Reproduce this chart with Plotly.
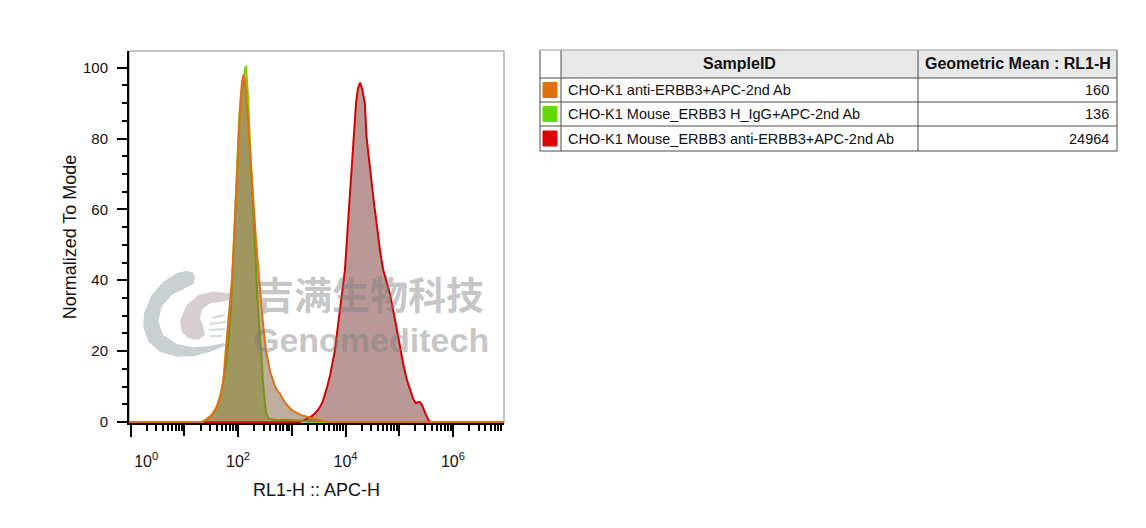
import plotly.graph_objects as go

# ---------------- data ----------------
sample_ids = [
    "CHO-K1 anti-ERBB3+APC-2nd Ab",
    "CHO-K1 Mouse_ERBB3 H_IgG+APC-2nd Ab",
    "CHO-K1 Mouse_ERBB3 anti-ERBB3+APC-2nd Ab",
]
geo_means = ["160", "136", "24964"]
table_headers = ["SampleID", "Geometric Mean : RL1-H"]

# histogram: log10(RL1-H) positions and % of mode
orange_log = [-0.03, 1.32, 1.40, 1.50, 1.58, 1.65, 1.71, 1.74, 1.77, 1.83, 1.886, 1.92, 1.95, 1.98,
              2.005, 2.04, 2.07, 2.097, 2.12, 2.15, 2.18, 2.21, 2.25, 2.296, 2.34, 2.39, 2.45,
              2.52, 2.60, 2.69, 2.75, 2.79, 2.83, 2.90, 2.98, 3.08, 3.20, 3.34, 3.46, 3.58, 3.70, 6.95]
orange_pct = [0, 0, 0.6, 1.8, 3.5, 6, 10, 14, 20, 30, 40, 50, 60, 70,
              80, 89, 95.5, 97.9, 97, 93, 86, 80, 70, 60, 50, 40, 30,
              20, 14, 10, 8.4, 7.8, 6.5, 5, 3.6, 2.6, 1.8, 1.2, 0.7, 0.3, 0, 0]

green_log = [-0.03, 1.34, 1.42, 1.52, 1.60, 1.67, 1.73, 1.78, 1.82, 1.86, 1.90, 1.93, 1.96, 1.99,
             2.02, 2.06, 2.10, 2.13, 2.147, 2.165, 2.19, 2.21, 2.23, 2.26, 2.30, 2.33, 2.36,
             2.41, 2.43, 2.46, 2.48, 2.50, 2.53, 2.57, 2.64, 2.75, 2.85, 2.98, 3.10, 3.25, 3.35, 6.95]
green_pct = [0, 0, 0.7, 2.2, 4.2, 7.5, 12, 17, 23, 31, 43, 55, 67, 78,
             86, 93, 97.5, 99.5, 100.5, 97, 91, 83, 76, 65, 53, 43, 35,
             23, 20, 12, 8, 5, 2, 1, 0.7, 0.5, 0.6, 0.6, 0.4, 0.2, 0, 0]

red_log = [-0.03, 3.15, 3.22, 3.28, 3.36, 3.43, 3.50, 3.57, 3.62, 3.66, 3.71, 3.76, 3.80, 3.85,
           3.89, 3.94, 3.99, 4.03, 4.07, 4.115, 4.15, 4.196, 4.23, 4.27, 4.31, 4.36, 4.39,
           4.455, 4.53, 4.61, 4.64, 4.70, 4.77, 4.83, 4.92, 5.01, 5.08, 5.14, 5.20, 5.26,
           5.31, 5.35, 5.39, 5.43, 5.47, 5.51, 5.55, 5.60, 6.95]
red_pct = [0, 0, 0.4, 0.8, 1.5, 2.4, 3.6, 5.5, 7.8, 10, 13, 16.5, 20, 26,
           31, 37, 43, 52.4, 61.8, 71, 80.6, 90, 94, 95.8, 94, 90, 80.6,
           71, 61.8, 52.4, 48.6, 43, 39.5, 36, 29, 21, 16, 12, 9, 6.5,
           5.3, 5.6, 5.5, 4.6, 3, 1.4, 0.3, 0, 0]

x_labeled = [1, 100, 10000, 1000000]
x_labeled_text = ["\u00a0" * 7 + "10<sup>0</sup>", "10<sup>2</sup>", "10<sup>4</sup>", "10<sup>6</sup>"]
x_unlabeled = [10, 1000, 100000]
y_ticks = [0, 20, 40, 60, 80, 100]

# ---------------- styles ----------------
OFF = 8  # page body margin of the browser
W, H = 1146 - OFF, 528 - OFF
PL, PR, PT, PB = 129, 504, 51, 423   # plot area in reference pixels
FONT = "Liberation Sans, Arial, sans-serif"

swatch_colors = ["#e0700a", "#66d900", "#dd0000"]
line_colors = ["#e0700f", "#86c800", "#d60000"]
fill_colors = ["rgba(110,75,44,0.45)", "rgba(146,168,19,0.5)", "rgba(130,68,68,0.55)"]


def px(x):
    return (x - PL) / (PR - PL)


def py(y):
    return (PB - y) / (PB - PT)


def to_lin(vals):
    return [10 ** v for v in vals]


fig = go.Figure()
series = [
    (red_log, red_pct, 2),
    (green_log, green_pct, 1),
    (orange_log, orange_pct, 0),
]
for lg, pct, i in series:
    fig.add_trace(go.Scatter(
        x=to_lin(lg), y=pct, mode="lines", name=sample_ids[i],
        line=dict(color=line_colors[i], width=2),
        fill="tozeroy", fillcolor=fill_colors[i], showlegend=False,
    ))
# carrier trace for the secondary (unlabelled decade tick) axis
fig.add_trace(go.Scatter(x=[1], y=[0], xaxis="x2", mode="markers",
                         marker=dict(opacity=0), showlegend=False, hoverinfo="skip"))

shapes = []
annotations = []

# plot frame
shapes.append(dict(type="rect", xref="paper", yref="paper", x0=0, x1=1, y0=0, y1=1,
                   line=dict(color="#8a8a8a", width=1), layer="below"))

# ---- watermark logo ----
def path_from(points):
    return "M " + " L ".join(f"{px(a):.5f},{py(b):.5f}" for a, b in points) + " Z"

c_pts = [(195, 278.3), (193.3, 272.7), (186.7, 270.7), (176.7, 273.3), (163.3, 281.7), (151.7, 295),
         (144, 313.3), (143.3, 326.7), (148.3, 341.7), (160, 351.7), (176.7, 356.7), (195, 356),
         (213.3, 350.7), (226.7, 345), (223.3, 343.3), (210, 346), (193.3, 347.3), (176.7, 344),
         (163.3, 335), (158.3, 321.7), (161.7, 306.7), (171.7, 295), (185, 288.3), (193.3, 284)]
p_pts = [(230, 293.3), (213.3, 291.7), (198.3, 295), (186.7, 305), (180, 320), (181.7, 331.7),
         (188.3, 338.3), (198.3, 340), (205, 335), (203.3, 326.7), (200, 318.3), (201.7, 310),
         (210, 303.3), (221.7, 301.7), (230, 300)]
shapes.append(dict(type="path", xref="paper", yref="paper", path=path_from(c_pts),
                   fillcolor="rgba(150,160,165,0.5)", line=dict(width=0), layer="above"))
shapes.append(dict(type="path", xref="paper", yref="paper", path=path_from(p_pts),
                   fillcolor="rgba(175,155,160,0.5)", line=dict(width=0), layer="above"))
for (a, b, c, d) in [(212, 318, 225, 315), (210, 324, 226, 322), (209, 330, 225, 329), (210, 336, 222, 336)]:
    shapes.append(dict(type="line", xref="paper", yref="paper", x0=px(a), y0=py(b), x1=px(c), y1=py(d),
                       line=dict(color="rgba(160,170,175,0.45)", width=2), layer="above"))

annotations.append(dict(xref="paper", yref="paper", x=px(370), y=py(292), text="<b>吉满生物科技</b>",
                        showarrow=False, xanchor="center", yanchor="middle",
                        font=dict(family="Noto Sans CJK SC", size=38, color="rgba(125,125,125,0.45)")))
annotations.append(dict(xref="paper", yref="paper", x=px(371), y=py(340), text="<b>Genomeditech</b>",
                        showarrow=False, xanchor="center", yanchor="middle",
                        font=dict(family=FONT, size=34, color="rgba(125,125,125,0.45)")))

# ---- table ----
tx = [540, 561, 918, 1117]
ty = [50, 78, 102, 126, 151]
LC = "#4a4a4a"
shapes.append(dict(type="rect", xref="paper", yref="paper", x0=px(tx[1]), x1=px(tx[3]),
                   y0=py(ty[0]), y1=py(ty[1]), fillcolor="#e8e8e8", line=dict(width=0)))
for xv in tx:
    shapes.append(dict(type="line", xref="paper", yref="paper", x0=px(xv), x1=px(xv),
                       y0=py(ty[0]), y1=py(ty[-1]), line=dict(color=LC, width=1)))
for k, yv in enumerate(ty):
    shapes.append(dict(type="line", xref="paper", yref="paper", x0=px(tx[0]), x1=px(tx[-1]),
                       y0=py(yv), y1=py(yv), line=dict(color="#9a9a9a" if k == 0 else LC, width=1)))

annotations.append(dict(xref="paper", yref="paper", x=px((tx[1] + tx[2]) / 2), y=py((ty[0] + ty[1]) / 2),
                        text="<b>" + table_headers[0] + "</b>", showarrow=False,
                        xanchor="center", yanchor="middle", font=dict(family=FONT, size=16, color="#111")))
annotations.append(dict(xref="paper", yref="paper", x=px((tx[2] + tx[3]) / 2), y=py((ty[0] + ty[1]) / 2),
                        text="<b>" + table_headers[1] + "</b>", showarrow=False,
                        xanchor="center", yanchor="middle", font=dict(family=FONT, size=16, color="#111")))
for i, (sid, gm) in enumerate(zip(sample_ids, geo_means)):
    yc = (ty[i + 1] + ty[i + 2]) / 2
    shapes.append(dict(type="rect", xref="paper", yref="paper", x0=px(543), x1=px(557),
                       y0=py(yc - 7.5), y1=py(yc + 7.5), fillcolor=swatch_colors[i],
                       line=dict(color=swatch_colors[i], width=1)))
    annotations.append(dict(xref="paper", yref="paper", x=px(566), y=py(yc), text=sid, showarrow=False,
                            xanchor="left", yanchor="middle", font=dict(family=FONT, size=14.5, color="#111")))
    annotations.append(dict(xref="paper", yref="paper", x=px(1111), y=py(yc), text=gm, showarrow=False,
                            xanchor="right", yanchor="middle", font=dict(family=FONT, size=14.5, color="#111")))

# minor x ticks
x_minor = [k * 10 ** d for d in range(0, 7) for k in range(2, 10) if k * 10 ** d < 10 ** 6.95]

XR = [-0.03, 6.95]
fig.update_layout(
    width=W, height=H,
    margin=dict(l=PL - OFF, r=W - (PR - OFF), t=PT - OFF, b=H - (PB - OFF), pad=0),
    paper_bgcolor="white", plot_bgcolor="white",
    font=dict(family=FONT, size=14, color="#111"),
    shapes=shapes, annotations=annotations,
    xaxis=dict(
        type="log", range=XR, showgrid=False, zeroline=False,
        showline=True, linecolor="black", linewidth=2,
        tickmode="array", tickvals=x_labeled, ticktext=x_labeled_text,
        ticks="outside", ticklen=12, tickwidth=2, tickcolor="black",
        tickfont=dict(family=FONT, size=16, color="#111"), ticklabelstandoff=11,
        minor=dict(tickvals=x_minor, ticks="outside", ticklen=6, tickwidth=1.5, tickcolor="black"),
        title=dict(text="RL1-H :: APC-H", font=dict(family=FONT, size=18, color="#111"), standoff=14),
    ),
    xaxis2=dict(
        type="log", range=XR, overlaying="x", anchor="y", side="bottom",
        showgrid=False, zeroline=False, showline=False, showticklabels=False,
        tickmode="array", tickvals=x_unlabeled,
        ticks="outside", ticklen=12, tickwidth=2, tickcolor="black",
    ),
    yaxis=dict(
        range=[-0.3, 104.7], showgrid=False, zeroline=False,
        showline=True, linecolor="black", linewidth=2,
        tickmode="array", tickvals=y_ticks,
        ticks="outside", ticklen=10, tickwidth=2, tickcolor="black",
        tickfont=dict(family=FONT, size=15, color="#111"), ticklabelstandoff=6,
        minor=dict(dtick=5, ticks="outside", ticklen=5, tickwidth=1.5, tickcolor="black"),
        title=dict(text="Normalized To Mode", font=dict(family=FONT, size=18, color="#111"), standoff=2),
    ),
)

fig.write_html("out.html")
